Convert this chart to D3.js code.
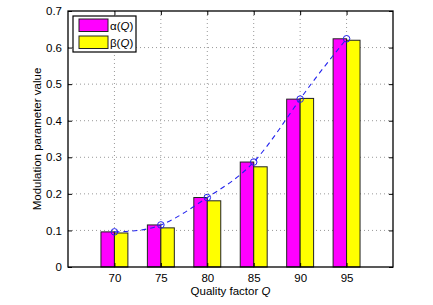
<!DOCTYPE html>
<html><head><meta charset="utf-8">
<script src="https://cdn.jsdelivr.net/npm/d3@7/dist/d3.min.js"></script>
<style>body{margin:0;background:#fff;} text{font-family:"Liberation Sans",Arial,sans-serif;}</style>
</head><body>
<svg id="c" width="433" height="305"></svg>
<script>
const qualities = [70, 75, 80, 85, 90, 95];
const alphaVals = [0.096, 0.115, 0.190, 0.287, 0.459, 0.624];
const betaVals  = [0.093, 0.107, 0.181, 0.274, 0.461, 0.620];
const yTicks = [0, 0.1, 0.2, 0.3, 0.4, 0.5, 0.6, 0.7];
const xTicks = [70, 75, 80, 85, 90, 95];

const svg = d3.select("#c");
const L = 68, R = 393, T = 11, B = 267;
const x = d3.scaleLinear().domain([65, 100]).range([L, R]);
const y = d3.scaleLinear().domain([0, 0.7]).range([B, T]);
const fs = "11.5px";

// grid
const g = svg.append("g");
g.selectAll(".gy").data(yTicks.slice(1, -1)).enter().append("line")
  .attr("x1", L).attr("x2", R).attr("y1", d => y(d)).attr("y2", d => y(d))
  .attr("stroke", "#999").attr("stroke-width", 1).attr("stroke-dasharray", "1,3");
g.selectAll(".gx").data(xTicks).enter().append("line")
  .attr("y1", T).attr("y2", B).attr("x1", d => x(d)).attr("x2", d => x(d))
  .attr("stroke", "#999").attr("stroke-width", 1).attr("stroke-dasharray", "1,3");

// bars
const bw = (x(5) - x(0)) * 0.29;
svg.selectAll(".ba").data(qualities).enter().append("rect")
  .attr("x", (d) => x(d) - bw).attr("width", bw)
  .attr("y", (d, i) => y(alphaVals[i])).attr("height", (d, i) => y(0) - y(alphaVals[i]))
  .attr("fill", "#ff00ff").attr("stroke", "#222").attr("stroke-width", 1);
svg.selectAll(".bb").data(qualities).enter().append("rect")
  .attr("x", (d) => x(d)).attr("width", bw)
  .attr("y", (d, i) => y(betaVals[i])).attr("height", (d, i) => y(0) - y(betaVals[i]))
  .attr("fill", "#ffff00").attr("stroke", "#222").attr("stroke-width", 1);

// dashed curve
const pts = qualities.map((q, i) => [x(q), y(alphaVals[i])]);
svg.append("path").datum(pts)
  .attr("d", d3.line().curve(d3.curveNatural))
  .attr("fill", "none").attr("stroke", "#2222ee").attr("stroke-width", 1.1)
  .attr("stroke-dasharray", "5,4");
svg.selectAll(".pt").data(pts).enter().append("circle")
  .attr("cx", d => d[0]).attr("cy", d => d[1]).attr("r", 3.3)
  .attr("fill", "none").attr("stroke", "#2222ee").attr("stroke-width", 1);

// axes
const ax = svg.append("g").attr("transform", `translate(0,${B})`)
  .call(d3.axisBottom(x).tickValues(xTicks).tickSize(-4).tickPadding(7).tickFormat(d3.format("d")));
const ay = svg.append("g").attr("transform", `translate(${L},0)`)
  .call(d3.axisLeft(y).tickValues(yTicks).tickSize(-4).tickPadding(6).tickFormat(d => d === 0 ? "0" : d3.format(".1f")(d)));
const at = svg.append("g").attr("transform", `translate(0,${T})`)
  .call(d3.axisTop(x).tickValues(xTicks).tickSize(-4).tickFormat(""));
const ar = svg.append("g").attr("transform", `translate(${R},0)`)
  .call(d3.axisRight(y).tickValues(yTicks).tickSize(-4).tickFormat(""));
[ax, ay, at, ar].forEach(a => {
  a.select(".domain").remove();
  a.selectAll("line").attr("stroke", "#000");
  a.selectAll("text").attr("fill", "#000").style("font-size", fs).style("font-family", '"Liberation Sans",Arial,sans-serif');
});
svg.append("rect").attr("x", L).attr("y", T).attr("width", R - L).attr("height", B - T)
  .attr("fill", "none").attr("stroke", "#000").attr("stroke-width", 1.3);

// labels
const xl = svg.append("text").attr("x", (L + R) / 2).attr("y", 295).attr("text-anchor", "middle")
  .style("font-size", fs);
xl.append("tspan").text("Quality factor ");
xl.append("tspan").attr("font-style", "italic").text("Q");
svg.append("text").attr("transform", `translate(41,${(T + B) / 2}) rotate(-90)`)
  .attr("text-anchor", "middle").style("font-size", fs).text("Modulation parameter value");

// legend
const lg = svg.append("g");
lg.append("rect").attr("x", 73).attr("y", 16).attr("width", 63).attr("height", 36)
  .attr("fill", "#fff").attr("stroke", "#000").attr("stroke-width", 1.2);
const legendItems = [{lab: "α", col: "#ff00ff"}, {lab: "β", col: "#ffff00"}];
legendItems.forEach((it, i) => {
  const yy = 19 + i * 17;
  lg.append("rect").attr("x", 79).attr("y", yy).attr("width", 29).attr("height", 12.5)
    .attr("fill", it.col).attr("stroke", "#222").attr("stroke-width", 1);
  const t = lg.append("text").attr("x", 110).attr("y", yy + 10.5).style("font-size", fs);
  t.append("tspan").text(it.lab + "(");
  t.append("tspan").attr("font-style", "italic").text("Q");
  t.append("tspan").text(")");
});
</script>
</body></html>
